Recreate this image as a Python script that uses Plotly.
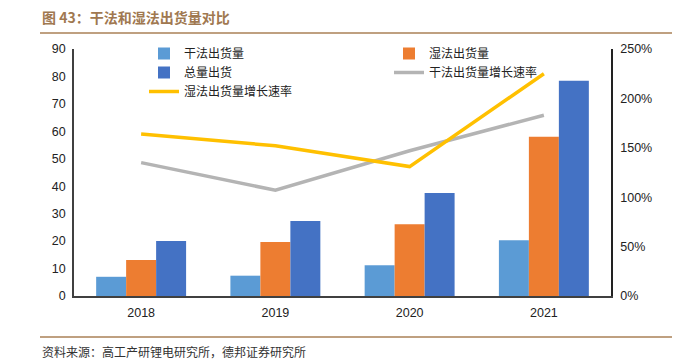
import plotly.graph_objects as go

years = ["2018", "2019", "2020", "2021"]
dry = [7.0, 7.4, 11.2, 20.3]
wet = [13.1, 19.7, 26.1, 58.0]
total = [20.0, 27.3, 37.5, 78.4]
dry_growth = [1.35, 1.07, 1.47, 1.83]
wet_growth = [1.64, 1.52, 1.31, 2.25]

left_ticks = [0, 10, 20, 30, 40, 50, 60, 70, 80, 90]
right_ticks = [0, 0.5, 1.0, 1.5, 2.0, 2.5]

CJK = "Noto Sans CJK SC"
# page has an 8px body margin; figure is sized/offset to compensate
W, H = 672, 356
L, R, T, B = 66, 69, 41, 68
PW, PH = W - L - R, H - T - B

fig = go.Figure()
fig.add_bar(x=years, y=dry, name="干法出货量", marker=dict(color="#5B9BD5", line=dict(width=0)))
fig.add_bar(x=years, y=wet, name="湿法出货量", marker=dict(color="#ED7D31", line=dict(width=0)))
fig.add_bar(x=years, y=total, name="总量出货", marker=dict(color="#4472C4", line=dict(width=0)))
fig.add_scatter(x=years, y=dry_growth, name="干法出货量增长速率", mode="lines",
                line=dict(color="#B4B4B4", width=3.5), yaxis="y2")
fig.add_scatter(x=years, y=wet_growth, name="湿法出货量增长速率", mode="lines",
                line=dict(color="#FFC000", width=3.5), yaxis="y2")

fig.update_layout(
    width=W, height=H,
    margin=dict(l=L, r=R, t=T, b=B),
    paper_bgcolor="white", plot_bgcolor="white",
    barmode="group", bargap=0.33, bargroupgap=0,
    font=dict(family="Liberation Sans, Arial", size=12, color="#222222"),
    showlegend=True,
    legend=dict(orientation="h", x=(136 - L) / PW, y=1 + 10 / PH, xanchor="left", yanchor="top",
                entrywidth=200, entrywidthmode="pixels",
                font=dict(family=CJK, size=12, color="#222222"),
                bgcolor="rgba(0,0,0,0)", itemwidth=30, tracegroupgap=0),
    xaxis=dict(showline=True, linecolor="#404040", linewidth=1.5, ticks="",
               ticklabelstandoff=4,
               tickfont=dict(size=12.5, color="#222222"), showgrid=False),
    yaxis=dict(range=[0, 90], tickvals=left_ticks, showline=True, linecolor="#404040",
               linewidth=1.5, showgrid=False, zeroline=False, ticks="",
               ticklabelstandoff=4,
               tickfont=dict(size=12.5, color="#222222")),
    yaxis2=dict(range=[0, 2.5], tickvals=right_ticks, tickformat=".0%", overlaying="y",
                side="right", showline=True, linecolor="#222222", linewidth=1.5,
                showgrid=False, zeroline=False, ticks="",
                ticklabelstandoff=5,
                tickfont=dict(size=12.5, color="#222222")),
    annotations=[
        dict(text="<b>图 43：干法和湿法出货量对比</b>", xref="paper", yref="paper",
             x=(32 - L) / PW, y=1 + (T - 9) / PH, xanchor="left", yanchor="middle",
             showarrow=False, font=dict(family=CJK, size=14, color="#A07850")),
        dict(text="资料来源：高工产研锂电研究所，德邦证券研究所", xref="paper", yref="paper",
             x=(32 - L) / PW, y=-(343 - (T + PH)) / PH, xanchor="left", yanchor="middle",
             showarrow=False, font=dict(family=CJK, size=12, color="#333333")),
    ],
    shapes=[
        dict(type="line", xref="paper", yref="paper", x0=(32 - L) / PW, x1=(W - L) / PW,
             y0=1 + (T - 25) / PH, y1=1 + (T - 25) / PH, line=dict(color="#BFA080", width=2)),
        dict(type="line", xref="paper", yref="paper", x0=(32 - L) / PW, x1=(W - L) / PW,
             y0=-(329 - (T + PH)) / PH, y1=-(329 - (T + PH)) / PH,
             line=dict(color="#BFA080", width=2)),
    ],
)
fig.write_html("out.html")
